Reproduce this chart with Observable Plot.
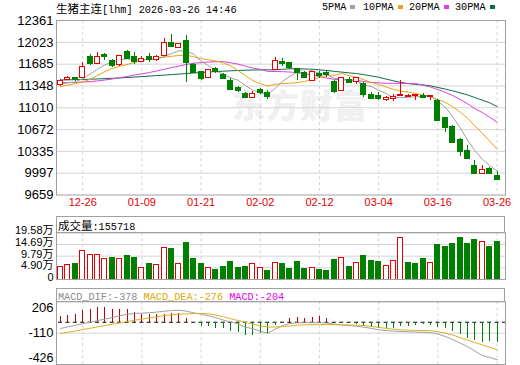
<!DOCTYPE html>
<html><head><meta charset="utf-8">
<script src="https://cdn.jsdelivr.net/npm/d3@7"></script>
<script src="https://cdn.jsdelivr.net/npm/@observablehq/plot@0.6"></script>
<style>
body{margin:0;background:#fff;}
#wrap{position:relative;width:520px;height:365px;overflow:hidden;font-family:"Liberation Sans","Noto Sans CJK SC",sans-serif;}
#wrap svg{position:absolute;left:0;z-index:1;}
.abs{position:absolute;white-space:nowrap;}
.mono{font-family:"Liberation Mono","Noto Sans CJK SC",monospace;font-size:10.2px;}
.cjk{font-family:"Noto Sans CJK SC",sans-serif;font-size:11.5px;}
.box{position:absolute;left:56px;width:449px;border:1px solid #a0a0a0;box-sizing:border-box;background:#fff;z-index:2;}
.sq{display:inline-block;width:5px;height:4px;margin-left:4px;vertical-align:1px;}
#wm{position:absolute;left:232px;top:80px;font-family:"Noto Sans CJK SC",sans-serif;font-weight:900;font-size:33px;color:#f0f0f0;z-index:0;letter-spacing:1px;}
</style></head>
<body><div id="wrap">
<div id="wm">东方财富</div>
<div class="abs" style="left:56px;top:0px;line-height:16px;"><span class="cjk">生猪主连</span><span class="mono">[lhm] 2026-03-26 14:46</span></div>
<div id="legend"></div>
<div class="box" style="top:216px;height:17px;line-height:15px;padding-left:1px;"><span class="cjk">成交量</span><span class="mono">:155718</span></div>
<div class="box" id="macdHead" style="top:288px;height:14px;line-height:12px;padding-left:1px;"></div>
</div>
<script>
// ---------- data ----------
const dateLabels = ["12-26","01-09","01-21","02-02","02-12","03-04","03-16","03-26"];
const dateIndex = [3,11,19,27,35,43,51,59];
const priceTicks = [12361,12023,11685,11348,11010,10672,10335,9997,9659];
const volTicks = [195800,146900,97900,49000,0];
const volTickLabels = ["19.58万","14.69万","9.79万","4.90万","0"];
const macdTicks = [206,-110,-426];

const open  = [11373,11445,11460,11486,11793,11701,11815,11721,11680,11860,11783,11726,11793,11752,11818,12003,11941,12039,11670,11552,11476,11604,11517,11409,11307,11210,11169,11270,11225,11604,11715,11690,11604,11537,11425,11525,11540,11398,11282,11435,11414,11373,11194,11179,11138,11150,11194,11180,11196,11185,11180,11107,10836,10708,10504,10335,10100,9992,10053,9951];
const high  = [11445,11500,11486,11706,11834,11860,11844,11757,11824,11895,11860,11808,11844,11818,12079,12141,11998,12131,11691,11568,11604,11629,11537,11465,11332,11240,11261,11302,11271,11793,11773,11716,11620,11578,11578,11578,11589,11425,11486,11486,11486,11398,11245,11245,11179,11210,11425,11220,11205,11225,11195,11144,10861,10734,10530,10427,10186,10120,10084,10017];
const low   = [11343,11430,11414,11465,11670,11680,11742,11629,11655,11752,11680,11706,11716,11732,11808,11936,11926,11399,11537,11435,11465,11547,11445,11271,11240,11153,11158,11210,11133,11589,11655,11598,11425,11466,11409,11466,11480,11230,11271,11383,11373,11168,11144,11118,11102,11107,11184,11175,11118,11150,11128,10800,10631,10468,10258,10212,9992,9977,9992,9879];
const close = [11414,11470,11445,11629,11691,11793,11805,11670,11798,11772,11732,11757,11752,11783,11998,11952,11982,11706,11563,11460,11588,11568,11460,11291,11271,11169,11220,11250,11179,11732,11700,11629,11552,11475,11552,11510,11525,11261,11460,11398,11466,11220,11158,11160,11148,11165,11199,11190,11200,11170,11190,10810,10708,10477,10335,10222,9992,10043,9992,9900];

const ma5  = [11380,11395,11410,11460,11530,11606,11673,11718,11751,11768,11755,11746,11762,11759,11804,11848,11893,11884,11840,11733,11660,11577,11528,11473,11436,11352,11282,11240,11218,11310,11416,11498,11558,11618,11582,11544,11523,11465,11462,11431,11422,11361,11340,11280,11230,11170,11166,11172,11180,11185,11190,11112,11016,10871,10704,10510,10347,10214,10117,10030];
const ma10 = [11335,11360,11385,11410,11450,11510,11570,11620,11650,11680,11710,11740,11765,11780,11792,11806,11820,11823,11800,11769,11754,11735,11706,11657,11585,11506,11430,11384,11346,11373,11384,11390,11399,11418,11446,11480,11511,11512,11540,11507,11483,11442,11403,11371,11331,11296,11264,11256,11230,11208,11180,11139,11094,11026,10945,10850,10730,10615,10494,10367];
const ma20 = [11399,11400,11402,11408,11415,11425,11440,11455,11475,11495,11515,11535,11555,11580,11605,11630,11655,11680,11700,11709,11718,11723,11723,11706,11686,11654,11625,11604,11573,11571,11569,11563,11553,11538,11516,11493,11471,11448,11443,11440,11434,11416,11401,11395,11389,11388,11388,11384,11385,11358,11332,11291,11249,11199,11138,11073,10997,10936,10862,10788];
const ma30 = [11440,11442,11445,11448,11452,11456,11461,11466,11472,11478,11485,11492,11500,11508,11515,11523,11531,11540,11548,11556,11563,11570,11576,11582,11587,11591,11594,11596,11597,11597,11606,11612,11615,11610,11606,11596,11587,11573,11562,11550,11540,11522,11503,11482,11454,11427,11402,11384,11372,11363,11349,11324,11299,11272,11241,11209,11168,11128,11088,11027];

const volume = [54500,61600,62900,117400,104800,104800,83900,88100,83900,100600,88100,49100,62900,58700,132900,125800,62900,152200,83900,62900,49100,41900,53300,71300,50300,54500,65800,49100,37700,70000,65800,46100,71300,46100,49100,41900,37700,79700,91000,54500,70000,100600,75500,71300,57400,78400,174800,67100,62900,86800,67100,142600,135000,150000,174800,150000,166000,156000,135000,155718];
const volUp  = [1,1,0,1,1,1,1,0,1,0,0,1,0,1,1,0,1,0,0,0,1,0,0,0,0,0,1,1,0,1,0,0,0,0,1,0,0,0,1,0,1,0,0,0,1,1,1,0,0,0,1,0,0,0,0,0,0,1,0,0];

const dif  = [-63,-47,-31,-15,0,16,32,48,64,80,88,92,96,102,110,118,121,112,95,82,65,45,22,2,-18,-50,-65,-90,-112,-70,-35,-12,-6,-5,-5,-4,-8,-18,-28,-33,-40,-50,-62,-76,-84,-90,-93,-96,-99,-101,-103,-120,-144,-174,-210,-245,-290,-335,-355,-378];
const dea  = [-114,-101,-88,-74,-61,-47,-34,-20,-7,7,20,32,44,56,67,75,80,84,87,87,84,72,55,35,18,0,-20,-36,-48,-48,-44,-38,-30,-27,-25,-24,-23,-24,-26,-28,-30,-33,-42,-52,-62,-70,-76,-80,-82,-84,-85,-95,-110,-128,-155,-180,-205,-228,-252,-276];
const macd = [53,70,80,114,131,148,148,131,124,124,97,80,80,80,80,90,90,40,-5,-46,-46,-62,-62,-90,-107,-130,-130,-117,-117,-29,-3,40,46,40,46,53,33,-5,-17,-17,-27,-44,-51,-61,-68,-68,-44,-40,-34,-27,-34,-50,-68,-92,-125,-160,-188,-205,-195,-204];

const maNames = ["5PMA","10PMA","20PMA","30PMA"];
// ---------- style ----------
const RED = "#e60000", GREEN = "#008000", GRID = "#d4d4d4", FRAME = "#a0a0a0";
const maColors = ["#a0a0a0","#e8a317","#e040e0","#0b6b4a"];
const legendLeft = [322,363,409,455];
const FONT = "'Liberation Sans','Noto Sans CJK SC',sans-serif";

// legend
const lg = document.getElementById("legend");
maNames.forEach((n,k)=>{
  const s = document.createElement("div");
  s.className = "abs mono";
  s.style.left = legendLeft[k]+"px"; s.style.top = "0px"; s.style.lineHeight = "16px";
  s.innerHTML = n + `<span class="sq" style="background:${maColors[k]}"></span>`;
  lg.appendChild(s);
});
document.getElementById("macdHead").innerHTML =
  `<span class="mono" style="color:#8c8c8c">MACD_DIF:${dif[dif.length-1]} </span>` +
  `<span class="mono" style="color:#e0a800">MACD_DEA:${dea[dea.length-1]} </span>` +
  `<span class="mono" style="color:#e600e6">MACD:${macd[macd.length-1]}</span>`;

// ---------- tables ----------
const candles = close.map((c,i)=>({i, o:open[i], h:high[i], l:low[i], c}));
const upC = candles.filter(d=>d.c>=d.o), dnC = candles.filter(d=>d.c<d.o);
const vols = volume.map((v,i)=>({i, v, up: volUp[i]===1}));
const mac = macd.map((m,i)=>({i, m}));
const bx1 = d=>d.i-0.34, bx2 = d=>d.i+0.34;
const X = {domain:[-0.54,60.14], axis:null};
const common = {width:520, marginLeft:56, marginRight:15, style:{background:"transparent", fontFamily:FONT, overflow:"visible"}};
const vgrid = () => Plot.ruleX(dateIndex, {stroke:GRID, strokeDasharray:"3,3"});
const wrap = document.getElementById("wrap");
function place(svg, top){ svg.style.top = top+"px"; wrap.appendChild(svg); }

// ---------- main price panel ----------
const main = Plot.plot({...common, height:215, marginTop:20, marginBottom:20.5,
  x:X, y:{domain:[9659,12361], axis:null},
  marks:[
    Plot.ruleY(priceTicks.slice(1,-1), {stroke:GRID}),
    vgrid(),
    ...[ma30,ma20,ma10,ma5].map((arr,k)=>Plot.line(arr, {x:(d,i)=>i, y:d=>d, stroke:maColors[3-k], strokeWidth:1})),
    Plot.ruleX(upC, {x:"i", y1:"l", y2:"h", stroke:RED, shapeRendering:"crispEdges"}),
    Plot.ruleX(dnC, {x:"i", y1:"l", y2:"h", stroke:GREEN, shapeRendering:"crispEdges"}),
    Plot.rect(upC, {x1:bx1, x2:bx2, y1:"o", y2:"c", fill:"#fff", stroke:RED, insetTop:-0.5, insetBottom:-0.5, shapeRendering:"crispEdges"}),
    Plot.rect(dnC, {x1:bx1, x2:bx2, y1:"o", y2:"c", fill:GREEN, stroke:GREEN, insetTop:-0.5, insetBottom:-0.5, shapeRendering:"crispEdges"}),
    Plot.frame({stroke:FRAME}),
    Plot.text(priceTicks, {y:d=>d, text:d=>String(d), frameAnchor:"left", textAnchor:"end", dx:-3, fontSize:13, fill:"#000"}),
    Plot.text(dateIndex, {x:d=>d, text:(d,i)=>dateLabels[i], frameAnchor:"bottom", dy:10.5, fontSize:11, fill:RED})
  ]});
place(main, 0);

// ---------- volume panel ----------
const volPlot = Plot.plot({...common, height:64, marginTop:16.3, marginBottom:1,
  x:X, y:{domain:[0,195800], axis:null},
  marks:[
    Plot.ruleY(volTicks.slice(1,-1), {stroke:GRID}),
    vgrid(),
    Plot.rect(vols.filter(d=>d.up), {x1:bx1, x2:bx2, y1:0, y2:"v", fill:"#fff", stroke:RED, shapeRendering:"crispEdges"}),
    Plot.rect(vols.filter(d=>!d.up), {x1:bx1, x2:bx2, y1:0, y2:"v", fill:GREEN, stroke:GREEN, shapeRendering:"crispEdges"}),
    Plot.frame({stroke:FRAME}),
    Plot.text(volTicks, {y:d=>d, text:(d,i)=>volTickLabels[i], frameAnchor:"left", textAnchor:"end", dx:-3, dy:-2, fontSize:11, fill:"#000"})
  ]});
place(volPlot, 216);

// ---------- MACD panel ----------
const macdPlot = Plot.plot({...common, height:77, marginTop:13.3, marginBottom:1,
  x:X, y:{domain:[-426,206], axis:null},
  marks:[
    Plot.ruleY([macdTicks[1]], {stroke:GRID}),
    vgrid(),
    Plot.ruleY([0], {stroke:"#000", strokeDasharray:"4,3.4", strokeDashoffset:5.4}),
    Plot.ruleX(mac.filter(d=>d.m>=0), {x:"i", y1:0, y2:"m", stroke:"#c00000", shapeRendering:"crispEdges"}),
    Plot.ruleX(mac.filter(d=>d.m<0), {x:"i", y1:0, y2:"m", stroke:GREEN, shapeRendering:"crispEdges"}),
    Plot.line(dif, {x:(d,i)=>i, y:d=>d, stroke:"#a0a0a0", strokeWidth:1}),
    Plot.line(dea, {x:(d,i)=>i, y:d=>d, stroke:"#e0b020", strokeWidth:1}),
    Plot.frame({stroke:FRAME}),
    Plot.text([macdTicks[0]], {y:d=>d, text:d=>String(d), frameAnchor:"left", textAnchor:"end", dx:-3, dy:6, fontSize:13, fill:"#000"}),
    Plot.text([macdTicks[1]], {y:d=>d, text:d=>String(d), frameAnchor:"left", textAnchor:"end", dx:-3, fontSize:13, fill:"#000"}),
    Plot.text([macdTicks[2]], {y:d=>d, text:d=>String(d), frameAnchor:"left", textAnchor:"end", dx:-3, dy:-7, fontSize:12.5, fill:"#000"})
  ]});
place(macdPlot, 288);
</script>
</body></html>
